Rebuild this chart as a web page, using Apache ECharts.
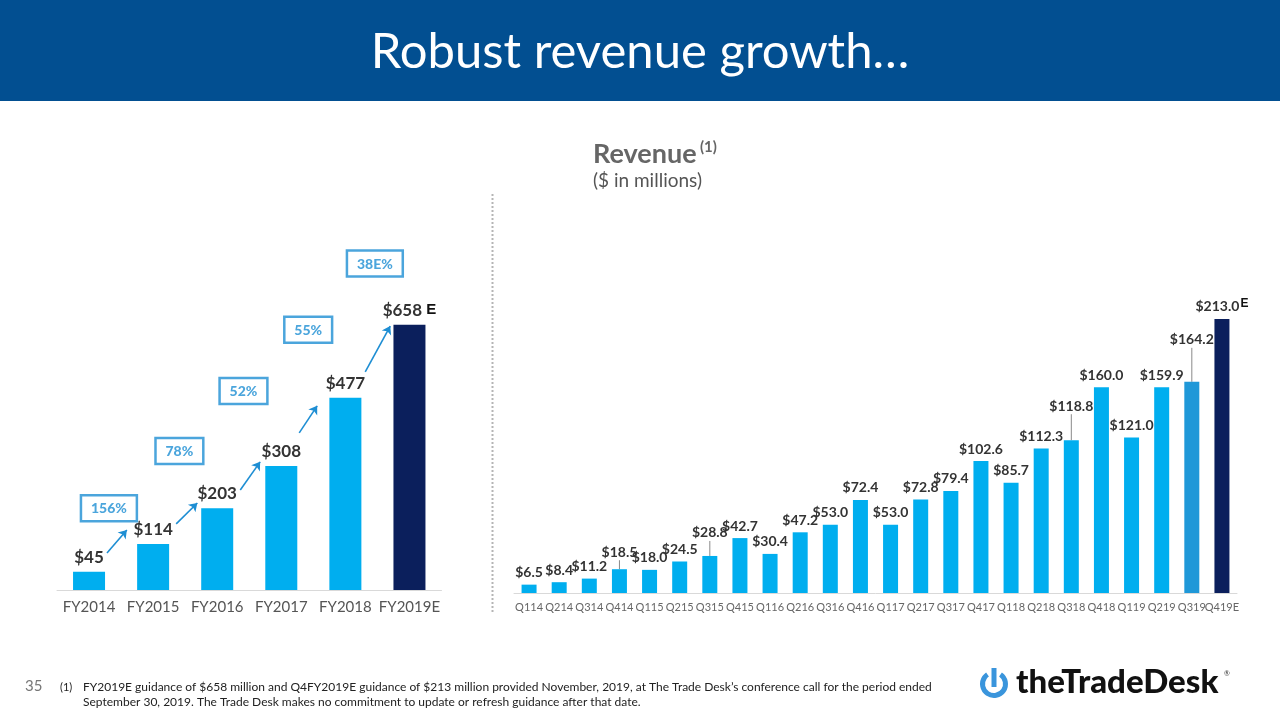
<!DOCTYPE html>
<html>
<head>
<meta charset="utf-8">
<script src="https://cdn.jsdelivr.net/npm/echarts@6/dist/echarts.min.js"></script>
<style>
html,body{margin:0;padding:0;background:#fff;}
#chart{width:1280px;height:720px;}
</style>
</head>
<body>
<div id="chart"></div>
<script>
// ---- data ----
const fyCategories = ['FY2014', 'FY2015', 'FY2016', 'FY2017', 'FY2018', 'FY2019E'];
const fyRevenue = [45, 114, 203, 308, 477, 658];
const fyGrowth = ['156%', '78%', '52%', '55%', '38E%'];

const qCategories = ['Q114', 'Q214', 'Q314', 'Q414', 'Q115', 'Q215', 'Q315', 'Q415',
  'Q116', 'Q216', 'Q316', 'Q416', 'Q117', 'Q217', 'Q317', 'Q417',
  'Q118', 'Q218', 'Q318', 'Q418', 'Q119', 'Q219', 'Q319', 'Q419E'];
const qRevenue = [6.5, 8.4, 11.2, 18.5, 18.0, 24.5, 28.8, 42.7,
  30.4, 47.2, 53.0, 72.4, 53.0, 72.8, 79.4, 102.6,
  85.7, 112.3, 118.8, 160.0, 121.0, 159.9, 164.2, 213.0];

// ---- layout / style (annotation placement) ----
const FONT = 'Lato, "Open Sans", sans-serif';
const BLUE = '#00aeef';
const MIDBLUE = '#1f98d8';
const NAVY = '#0b1f5c';
const ACCENT = '#1e8ed3';
const boxDx = [0.31, 0.41, 0.41, 0.42, 0.46];
const boxLift = [89, 142, 186, 169, 152];         // above next bar's value
const arrowStart = [[0.28, 47], [0.36, 50], [0.36, 45], [0.28, 82], [0.31, 64]];
const arrowEnd = [[0.59, 35], [0.69, 13], [0.67, 10], [0.56, -20], [0.70, -3]];
const qLabelLift = {3: 10, 6: 16, 18: 27, 22: 35};

const isEst = name => name.endsWith('E');

const fyBarData = fyRevenue.map((v, i) => ({
  value: v,
  itemStyle: {color: isEst(fyCategories[i]) ? NAVY : BLUE}
}));

const boxData = fyGrowth.map((g, i) => ({
  name: g,
  value: [i + boxDx[i], fyRevenue[i + 1] + boxLift[i]]
}));

const arrowData = fyGrowth.map((g, i) => ({
  coords: [
    [i + arrowStart[i][0], fyRevenue[i] + arrowStart[i][1]],
    [i + arrowEnd[i][0], fyRevenue[i + 1] + arrowEnd[i][1]]
  ]
}));

const qBarData = qRevenue.map((v, i) => {
  const n = qCategories.length;
  const item = {
    value: v,
    itemStyle: {color: i === n - 1 ? NAVY : (i === n - 2 ? MIDBLUE : BLUE)}
  };
  if (qLabelLift[i] !== undefined) item.label = {distance: qLabelLift[i]};
  return item;
});

const leaderData = Object.keys(qLabelLift).map(k => [Number(k), qRevenue[Number(k)], qLabelLift[k]]);

const chart = echarts.init(document.getElementById('chart'), null, {renderer: 'canvas'});

const option = {
  animation: false,
  backgroundColor: '#ffffff',
  textStyle: {fontFamily: FONT},
  grid: [
    {left: 57, width: 384.5, top: 227.3, height: 362.7},
    {left: 514, width: 723, top: 271.5, height: 321.5}
  ],
  xAxis: [
    {
      type: 'category', gridIndex: 0, data: fyCategories,
      axisLine: {lineStyle: {color: '#d9d9d9', width: 1}},
      axisTick: {show: false},
      axisLabel: {color: '#555', fontSize: 15, margin: 10, interval: 0, fontFamily: FONT}
    },
    {type: 'value', gridIndex: 0, min: -0.5, max: 5.5, show: false},
    {
      type: 'category', gridIndex: 1, data: qCategories,
      axisLine: {lineStyle: {color: '#d9d9d9', width: 1}},
      axisTick: {show: false},
      axisLabel: {color: '#666', fontSize: 11, margin: 9, interval: 0, fontFamily: FONT}
    }
  ],
  yAxis: [
    {type: 'value', gridIndex: 0, min: 0, max: 900, show: false},
    {type: 'value', gridIndex: 1, min: 0, max: 250, show: false}
  ],
  series: [
    {
      type: 'bar', xAxisIndex: 0, yAxisIndex: 0, barWidth: 32,
      data: fyBarData,
      label: {
        show: true, position: 'top', distance: 6,
        formatter: p => isEst(p.name) ? `{v|$${p.value}}{e| E}` : `{v|$${p.value}}`,
        rich: {
          v: {fontFamily: FONT, fontWeight: 'bold', fontSize: 17, color: '#333'},
          e: {fontFamily: '"Liberation Sans", sans-serif', fontWeight: 'bold', fontSize: 15, color: '#111'}
        }
      }
    },
    {
      type: 'scatter', xAxisIndex: 1, yAxisIndex: 0, symbolSize: 0,
      data: boxData, silent: true,
      label: {
        show: true, position: 'inside', formatter: p => `{t|${p.name}}`,
        borderColor: ACCENT, borderWidth: 2.5, padding: [6, 10, 5, 10],
        rich: {
          t: {fontFamily: FONT, fontWeight: 900, fontSize: 14, color: ACCENT, lineHeight: 15}
        }
      }
    },
    {
      type: 'lines', coordinateSystem: 'cartesian2d', xAxisIndex: 1, yAxisIndex: 0,
      symbol: ['none', 'arrow'], symbolSize: 8, silent: true,
      lineStyle: {color: ACCENT, width: 1.6, opacity: 1},
      data: arrowData
    },
    {
      type: 'bar', xAxisIndex: 2, yAxisIndex: 1, barWidth: 15,
      data: qBarData,
      label: {
        show: true, position: 'top', distance: 5,
        formatter: p => isEst(p.name) ? `{v|$${p.value.toFixed(1)}}{e|E}` : `{v|$${p.value.toFixed(1)}}`,
        rich: {
          v: {fontFamily: FONT, fontWeight: 'bold', fontSize: 14, color: '#333'},
          e: {fontFamily: '"Liberation Sans", sans-serif', fontWeight: 'bold', fontSize: 12, color: '#111', padding: [0, 0, 4, 1]}
        }
      }
    },
    {
      type: 'custom', xAxisIndex: 2, yAxisIndex: 1, silent: true,
      data: leaderData,
      renderItem: (params, api) => {
        const p = api.coord([api.value(0), api.value(1)]);
        const L = api.value(2);
        return {
          type: 'line',
          shape: {x1: p[0], y1: p[1], x2: p[0], y2: p[1] - L + 1},
          style: {stroke: '#8a8a8a', lineWidth: 1}
        };
      }
    }
  ],
  graphic: [
    {type: 'rect', left: 0, top: 0, shape: {width: 1280, height: 101}, style: {fill: '#024f91'}, silent: true},
    {type: 'text', x: 640, y: 52, style: {text: 'Robust revenue growth…', fill: '#fff', font: '49px Lato, sans-serif', textAlign: 'center', textVerticalAlign: 'middle'}},
    {type: 'text', x: 593, y: 154, style: {text: 'Revenue', fill: '#666', font: 'bold 27px Lato, sans-serif', textVerticalAlign: 'middle'}},
    {type: 'text', x: 700, y: 147, style: {text: '(1)', fill: '#666', font: 'bold 15px Lato, sans-serif', textVerticalAlign: 'middle'}},
    {type: 'text', x: 593, y: 181, style: {text: '($ in millions)', fill: '#555', font: '19px Lato, sans-serif', textVerticalAlign: 'middle'}},
    {type: 'line', shape: {x1: 492.5, y1: 194, x2: 492.5, y2: 614}, style: {stroke: '#b5b5b5', lineWidth: 2, lineDash: [2, 2]}},
    {type: 'text', x: 25, y: 686, style: {text: '35', fill: '#777', font: '15px Lato, sans-serif', textVerticalAlign: 'middle'}},
    {type: 'text', x: 60, y: 687, style: {text: '(1)', fill: '#222', font: '11px Lato, sans-serif', textVerticalAlign: 'middle'}},
    {type: 'text', x: 83, y: 687, style: {text: 'FY2019E guidance of $658 million and Q4FY2019E guidance of $213 million provided November, 2019, at The Trade Desk\u2019s conference call for the period ended', fill: '#222', font: '12px Lato, sans-serif', textVerticalAlign: 'middle'}},
    {type: 'text', x: 83, y: 702, style: {text: 'September 30, 2019. The Trade Desk makes no commitment to update or refresh guidance after that date.', fill: '#222', font: '12px Lato, sans-serif', textVerticalAlign: 'middle'}},
    {type: 'arc', shape: {cx: 994, cy: 684, r: 11.5, startAngle: -Math.PI / 2 + 0.6, endAngle: -Math.PI / 2 - 0.6 + 2 * Math.PI, clockwise: true}, style: {stroke: '#3a95dc', lineWidth: 5, fill: null}},
    {type: 'rect', shape: {x: 991.5, y: 668, width: 5, height: 19}, style: {fill: '#3a95dc'}},
    {type: 'text', x: 1016, y: 682, style: {text: 'theTradeDesk', fill: '#111', font: '900 33px Lato, sans-serif', textVerticalAlign: 'middle'}},
    {type: 'text', x: 1224, y: 674, style: {text: '®', fill: '#333', font: '7px Lato, sans-serif', textVerticalAlign: 'middle'}}
  ]
};

chart.setOption(option);
</script>
</body>
</html>
